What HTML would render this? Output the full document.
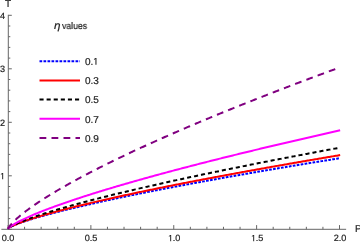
<!DOCTYPE html>
<html><head><meta charset="utf-8"><style>
html,body{margin:0;padding:0;background:#fff;}
body{width:360px;height:242px;position:relative;overflow:hidden;font-family:"Liberation Sans",sans-serif;color:#222;}
.one{width:0.5562em;height:0.688em;vertical-align:baseline;fill:#222;overflow:visible}
.t{position:absolute;line-height:1;white-space:nowrap;will-change:transform;text-rendering:geometricPrecision;-webkit-text-stroke:0.2px #222;}
</style></head><body>
<svg width="360" height="242" viewBox="0 0 360 242" style="position:absolute;left:0;top:0">
<g stroke="#666666" stroke-width="1" fill="none">
<line x1="1.37" y1="229.3" x2="346.13" y2="229.3"/>
<line x1="8.3" y1="229.8" x2="8.3" y2="14.80"/>
<line x1="8.00" y1="229.3" x2="8.00" y2="225.10000000000002"/>
<line x1="24.57" y1="229.3" x2="24.57" y2="226.8"/>
<line x1="41.15" y1="229.3" x2="41.15" y2="226.8"/>
<line x1="57.73" y1="229.3" x2="57.73" y2="226.8"/>
<line x1="74.30" y1="229.3" x2="74.30" y2="226.8"/>
<line x1="90.88" y1="229.3" x2="90.88" y2="225.10000000000002"/>
<line x1="107.45" y1="229.3" x2="107.45" y2="226.8"/>
<line x1="124.03" y1="229.3" x2="124.03" y2="226.8"/>
<line x1="140.60" y1="229.3" x2="140.60" y2="226.8"/>
<line x1="157.18" y1="229.3" x2="157.18" y2="226.8"/>
<line x1="173.75" y1="229.3" x2="173.75" y2="225.10000000000002"/>
<line x1="190.33" y1="229.3" x2="190.33" y2="226.8"/>
<line x1="206.90" y1="229.3" x2="206.90" y2="226.8"/>
<line x1="223.47" y1="229.3" x2="223.47" y2="226.8"/>
<line x1="240.05" y1="229.3" x2="240.05" y2="226.8"/>
<line x1="256.62" y1="229.3" x2="256.62" y2="225.10000000000002"/>
<line x1="273.20" y1="229.3" x2="273.20" y2="226.8"/>
<line x1="289.78" y1="229.3" x2="289.78" y2="226.8"/>
<line x1="306.35" y1="229.3" x2="306.35" y2="226.8"/>
<line x1="322.93" y1="229.3" x2="322.93" y2="226.8"/>
<line x1="339.50" y1="229.3" x2="339.50" y2="225.10000000000002"/>
<line x1="8.3" y1="229.30" x2="11.8" y2="229.30"/>
<line x1="8.3" y1="218.60" x2="10.3" y2="218.60"/>
<line x1="8.3" y1="207.90" x2="10.3" y2="207.90"/>
<line x1="8.3" y1="197.20" x2="10.3" y2="197.20"/>
<line x1="8.3" y1="186.50" x2="10.3" y2="186.50"/>
<line x1="8.3" y1="175.80" x2="11.8" y2="175.80"/>
<line x1="8.3" y1="165.10" x2="10.3" y2="165.10"/>
<line x1="8.3" y1="154.40" x2="10.3" y2="154.40"/>
<line x1="8.3" y1="143.70" x2="10.3" y2="143.70"/>
<line x1="8.3" y1="133.00" x2="10.3" y2="133.00"/>
<line x1="8.3" y1="122.30" x2="11.8" y2="122.30"/>
<line x1="8.3" y1="111.60" x2="10.3" y2="111.60"/>
<line x1="8.3" y1="100.90" x2="10.3" y2="100.90"/>
<line x1="8.3" y1="90.20" x2="10.3" y2="90.20"/>
<line x1="8.3" y1="79.50" x2="10.3" y2="79.50"/>
<line x1="8.3" y1="68.80" x2="11.8" y2="68.80"/>
<line x1="8.3" y1="58.10" x2="10.3" y2="58.10"/>
<line x1="8.3" y1="47.40" x2="10.3" y2="47.40"/>
<line x1="8.3" y1="36.70" x2="10.3" y2="36.70"/>
<line x1="8.3" y1="26.00" x2="10.3" y2="26.00"/>
<line x1="8.3" y1="15.30" x2="11.8" y2="15.30"/>
</g>
<path d="M8.00,228.15 L8.14,228.07 L8.28,227.99 L8.42,227.91 L8.56,227.83 L8.70,227.75 L8.84,227.67 L8.98,227.60 L9.12,227.52 L9.26,227.45 L9.40,227.37 L9.55,227.30 L9.69,227.23 L9.83,227.16 L9.97,227.09 L10.11,227.02 L10.25,226.95 L10.39,226.88 L10.53,226.81 L10.67,226.75 L10.81,226.68 L10.95,226.61 L11.09,226.55 L11.23,226.48 L11.37,226.42 L11.51,226.35 L11.65,226.29 L11.79,226.23 L11.93,226.16 L12.07,226.10 L12.21,226.04 L12.35,225.98 L12.49,225.91 L12.64,225.85 L12.78,225.79 L12.92,225.73 L13.06,225.67 L13.20,225.61 L13.34,225.55 L13.48,225.49 L13.62,225.43 L13.76,225.38 L13.90,225.32 L14.04,225.26 L14.18,225.20 L14.32,225.14 L14.46,225.09 L14.60,225.03 L14.74,224.97 L14.88,224.92 L15.02,224.86 L15.16,224.80 L15.30,224.75 L15.44,224.69 L15.59,224.64 L15.73,224.58 L15.87,224.53 L16.01,224.47 L16.15,224.42 L16.29,224.36 L17.37,223.95 L18.45,223.54 L19.54,223.15 L20.62,222.76 L21.70,222.38 L22.79,222.01 L23.87,221.64 L24.95,221.28 L26.04,220.93 L27.12,220.58 L28.20,220.23 L29.29,219.89 L30.37,219.55 L31.45,219.22 L32.54,218.89 L33.62,218.56 L34.70,218.24 L35.79,217.91 L36.87,217.60 L37.95,217.28 L39.03,216.97 L40.12,216.66 L41.20,216.35 L42.28,216.05 L43.37,215.75 L44.45,215.45 L45.53,215.15 L46.62,214.85 L47.70,214.56 L48.78,214.27 L49.87,213.98 L50.95,213.69 L52.03,213.40 L53.12,213.12 L54.20,212.83 L55.28,212.55 L56.37,212.27 L57.45,211.99 L58.53,211.72 L59.62,211.44 L60.70,211.17 L61.78,210.90 L62.86,210.62 L63.95,210.35 L65.03,210.08 L66.11,209.82 L67.20,209.55 L68.28,209.29 L69.36,209.02 L70.45,208.76 L71.53,208.50 L72.61,208.24 L73.70,207.98 L74.78,207.72 L75.86,207.46 L76.95,207.20 L78.03,206.95 L79.11,206.69 L80.20,206.44 L81.28,206.19 L82.36,205.94 L83.45,205.68 L84.53,205.43 L85.61,205.19 L86.70,204.94 L87.78,204.69 L88.86,204.44 L89.94,204.20 L91.03,203.95 L92.11,203.71 L93.19,203.47 L94.28,203.22 L95.36,202.98 L96.44,202.74 L97.53,202.50 L98.61,202.26 L99.69,202.02 L100.78,201.78 L101.86,201.54 L102.94,201.31 L104.03,201.07 L105.11,200.83 L106.19,200.60 L107.28,200.37 L108.36,200.13 L109.44,199.90 L110.53,199.67 L111.61,199.43 L112.69,199.20 L113.78,198.97 L114.86,198.74 L115.94,198.51 L117.02,198.28 L118.11,198.06 L119.19,197.83 L120.27,197.60 L121.36,197.37 L122.44,197.15 L123.52,196.92 L124.61,196.70 L125.69,196.47 L126.77,196.25 L127.86,196.02 L128.94,195.80 L130.02,195.58 L131.11,195.36 L132.19,195.13 L133.27,194.91 L134.36,194.69 L135.44,194.47 L136.52,194.25 L137.61,194.03 L138.69,193.81 L139.77,193.59 L140.85,193.38 L141.94,193.16 L143.02,192.94 L144.10,192.73 L145.19,192.51 L146.27,192.29 L147.35,192.08 L148.44,191.86 L149.52,191.65 L150.60,191.43 L151.69,191.22 L152.77,191.01 L153.85,190.79 L154.94,190.58 L156.02,190.37 L157.10,190.16 L158.19,189.95 L159.27,189.73 L160.35,189.52 L161.44,189.31 L162.52,189.10 L163.60,188.89 L164.69,188.68 L165.77,188.48 L166.85,188.27 L167.93,188.06 L169.02,187.85 L170.10,187.64 L171.18,187.44 L172.27,187.23 L173.35,187.02 L174.43,186.82 L175.52,186.61 L176.60,186.41 L177.68,186.20 L178.77,186.00 L179.85,185.79 L180.93,185.59 L182.02,185.38 L183.10,185.18 L184.18,184.98 L185.27,184.77 L186.35,184.57 L187.43,184.37 L188.52,184.17 L189.60,183.97 L190.68,183.76 L191.77,183.56 L192.85,183.36 L193.93,183.16 L195.01,182.96 L196.10,182.76 L197.18,182.56 L198.26,182.36 L199.35,182.16 L200.43,181.96 L201.51,181.77 L202.60,181.57 L203.68,181.37 L204.76,181.17 L205.85,180.97 L206.93,180.78 L208.01,180.58 L209.10,180.38 L210.18,180.19 L211.26,179.99 L212.35,179.80 L213.43,179.60 L214.51,179.40 L215.60,179.21 L216.68,179.01 L217.76,178.82 L218.85,178.63 L219.93,178.43 L221.01,178.24 L222.09,178.04 L223.18,177.85 L224.26,177.66 L225.34,177.46 L226.43,177.27 L227.51,177.08 L228.59,176.89 L229.68,176.70 L230.76,176.50 L231.84,176.31 L232.93,176.12 L234.01,175.93 L235.09,175.74 L236.18,175.55 L237.26,175.36 L238.34,175.17 L239.43,174.98 L240.51,174.79 L241.59,174.60 L242.68,174.41 L243.76,174.22 L244.84,174.03 L245.92,173.84 L247.01,173.66 L248.09,173.47 L249.17,173.28 L250.26,173.09 L251.34,172.90 L252.42,172.72 L253.51,172.53 L254.59,172.34 L255.67,172.16 L256.76,171.97 L257.84,171.78 L258.92,171.60 L260.01,171.41 L261.09,171.23 L262.17,171.04 L263.26,170.85 L264.34,170.67 L265.42,170.48 L266.51,170.30 L267.59,170.12 L268.67,169.93 L269.76,169.75 L270.84,169.56 L271.92,169.38 L273.00,169.20 L274.09,169.01 L275.17,168.83 L276.25,168.65 L277.34,168.46 L278.42,168.28 L279.50,168.10 L280.59,167.92 L281.67,167.73 L282.75,167.55 L283.84,167.37 L284.92,167.19 L286.00,167.01 L287.09,166.83 L288.17,166.64 L289.25,166.46 L290.34,166.28 L291.42,166.10 L292.50,165.92 L293.59,165.74 L294.67,165.56 L295.75,165.38 L296.84,165.20 L297.92,165.02 L299.00,164.84 L300.08,164.66 L301.17,164.49 L302.25,164.31 L303.33,164.13 L304.42,163.95 L305.50,163.77 L306.58,163.59 L307.67,163.42 L308.75,163.24 L309.83,163.06 L310.92,162.88 L312.00,162.70 L313.08,162.53 L314.17,162.35 L315.25,162.17 L316.33,162.00 L317.42,161.82 L318.50,161.64 L319.58,161.47 L320.67,161.29 L321.75,161.12 L322.83,160.94 L323.92,160.76 L325.00,160.59 L326.08,160.41 L327.16,160.24 L328.25,160.06 L329.33,159.89 L330.41,159.71 L331.50,159.54 L332.58,159.36 L333.66,159.19 L334.75,159.01 L335.83,158.84 L336.91,158.67 L338.00,158.49 L339.08,158.32 L340.16,158.15" fill="none" stroke="#0000ff" stroke-width="2.0" stroke-dasharray="2.7 1.3" stroke-dashoffset="0"/>
<path d="M8.00,228.25 L8.14,228.15 L8.28,228.07 L8.42,227.98 L8.56,227.89 L8.70,227.81 L8.84,227.73 L8.98,227.65 L9.12,227.57 L9.26,227.49 L9.40,227.41 L9.55,227.33 L9.69,227.25 L9.83,227.18 L9.97,227.10 L10.11,227.03 L10.25,226.96 L10.39,226.88 L10.53,226.81 L10.67,226.74 L10.81,226.67 L10.95,226.60 L11.09,226.53 L11.23,226.46 L11.37,226.39 L11.51,226.33 L11.65,226.26 L11.79,226.19 L11.93,226.12 L12.07,226.06 L12.21,225.99 L12.35,225.93 L12.49,225.86 L12.64,225.80 L12.78,225.73 L12.92,225.67 L13.06,225.61 L13.20,225.54 L13.34,225.48 L13.48,225.42 L13.62,225.36 L13.76,225.29 L13.90,225.23 L14.04,225.17 L14.18,225.11 L14.32,225.05 L14.46,224.99 L14.60,224.93 L14.74,224.87 L14.88,224.81 L15.02,224.75 L15.16,224.69 L15.30,224.63 L15.44,224.58 L15.59,224.52 L15.73,224.46 L15.87,224.40 L16.01,224.34 L16.15,224.29 L16.29,224.23 L17.37,223.79 L18.45,223.37 L19.54,222.96 L20.62,222.55 L21.70,222.15 L22.79,221.76 L23.87,221.38 L24.95,221.00 L26.04,220.63 L27.12,220.26 L28.20,219.90 L29.29,219.54 L30.37,219.19 L31.45,218.84 L32.54,218.50 L33.62,218.16 L34.70,217.82 L35.79,217.48 L36.87,217.15 L37.95,216.82 L39.03,216.50 L40.12,216.17 L41.20,215.85 L42.28,215.53 L43.37,215.22 L44.45,214.90 L45.53,214.59 L46.62,214.28 L47.70,213.98 L48.78,213.67 L49.87,213.37 L50.95,213.07 L52.03,212.77 L53.12,212.47 L54.20,212.18 L55.28,211.88 L56.37,211.59 L57.45,211.30 L58.53,211.01 L59.62,210.72 L60.70,210.44 L61.78,210.15 L62.86,209.87 L63.95,209.59 L65.03,209.30 L66.11,209.03 L67.20,208.75 L68.28,208.47 L69.36,208.19 L70.45,207.92 L71.53,207.65 L72.61,207.38 L73.70,207.10 L74.78,206.83 L75.86,206.57 L76.95,206.30 L78.03,206.03 L79.11,205.77 L80.20,205.50 L81.28,205.24 L82.36,204.97 L83.45,204.71 L84.53,204.45 L85.61,204.19 L86.70,203.93 L87.78,203.67 L88.86,203.42 L89.94,203.16 L91.03,202.90 L92.11,202.65 L93.19,202.40 L94.28,202.14 L95.36,201.89 L96.44,201.64 L97.53,201.39 L98.61,201.14 L99.69,200.89 L100.78,200.64 L101.86,200.39 L102.94,200.14 L104.03,199.90 L105.11,199.65 L106.19,199.41 L107.28,199.16 L108.36,198.92 L109.44,198.67 L110.53,198.43 L111.61,198.19 L112.69,197.95 L113.78,197.71 L114.86,197.47 L115.94,197.23 L117.02,196.99 L118.11,196.75 L119.19,196.51 L120.27,196.27 L121.36,196.04 L122.44,195.80 L123.52,195.57 L124.61,195.33 L125.69,195.10 L126.77,194.86 L127.86,194.63 L128.94,194.40 L130.02,194.16 L131.11,193.93 L132.19,193.70 L133.27,193.47 L134.36,193.24 L135.44,193.01 L136.52,192.78 L137.61,192.55 L138.69,192.32 L139.77,192.10 L140.85,191.87 L141.94,191.64 L143.02,191.41 L144.10,191.19 L145.19,190.96 L146.27,190.74 L147.35,190.51 L148.44,190.29 L149.52,190.06 L150.60,189.84 L151.69,189.62 L152.77,189.40 L153.85,189.17 L154.94,188.95 L156.02,188.73 L157.10,188.51 L158.19,188.29 L159.27,188.07 L160.35,187.85 L161.44,187.63 L162.52,187.41 L163.60,187.19 L164.69,186.97 L165.77,186.75 L166.85,186.54 L167.93,186.32 L169.02,186.10 L170.10,185.89 L171.18,185.67 L172.27,185.45 L173.35,185.24 L174.43,185.02 L175.52,184.81 L176.60,184.59 L177.68,184.38 L178.77,184.17 L179.85,183.95 L180.93,183.74 L182.02,183.53 L183.10,183.32 L184.18,183.10 L185.27,182.89 L186.35,182.68 L187.43,182.47 L188.52,182.26 L189.60,182.05 L190.68,181.84 L191.77,181.63 L192.85,181.42 L193.93,181.21 L195.01,181.00 L196.10,180.79 L197.18,180.58 L198.26,180.38 L199.35,180.17 L200.43,179.96 L201.51,179.75 L202.60,179.55 L203.68,179.34 L204.76,179.13 L205.85,178.93 L206.93,178.72 L208.01,178.52 L209.10,178.31 L210.18,178.11 L211.26,177.90 L212.35,177.70 L213.43,177.49 L214.51,177.29 L215.60,177.09 L216.68,176.88 L217.76,176.68 L218.85,176.48 L219.93,176.27 L221.01,176.07 L222.09,175.87 L223.18,175.67 L224.26,175.47 L225.34,175.27 L226.43,175.07 L227.51,174.86 L228.59,174.66 L229.68,174.46 L230.76,174.26 L231.84,174.06 L232.93,173.86 L234.01,173.67 L235.09,173.47 L236.18,173.27 L237.26,173.07 L238.34,172.87 L239.43,172.67 L240.51,172.47 L241.59,172.28 L242.68,172.08 L243.76,171.88 L244.84,171.69 L245.92,171.49 L247.01,171.29 L248.09,171.10 L249.17,170.90 L250.26,170.70 L251.34,170.51 L252.42,170.31 L253.51,170.12 L254.59,169.92 L255.67,169.73 L256.76,169.53 L257.84,169.34 L258.92,169.15 L260.01,168.95 L261.09,168.76 L262.17,168.56 L263.26,168.37 L264.34,168.18 L265.42,167.98 L266.51,167.79 L267.59,167.60 L268.67,167.41 L269.76,167.22 L270.84,167.02 L271.92,166.83 L273.00,166.64 L274.09,166.45 L275.17,166.26 L276.25,166.07 L277.34,165.88 L278.42,165.69 L279.50,165.50 L280.59,165.31 L281.67,165.12 L282.75,164.93 L283.84,164.74 L284.92,164.55 L286.00,164.36 L287.09,164.17 L288.17,163.98 L289.25,163.79 L290.34,163.60 L291.42,163.41 L292.50,163.23 L293.59,163.04 L294.67,162.85 L295.75,162.66 L296.84,162.47 L297.92,162.29 L299.00,162.10 L300.08,161.91 L301.17,161.73 L302.25,161.54 L303.33,161.35 L304.42,161.17 L305.50,160.98 L306.58,160.80 L307.67,160.61 L308.75,160.42 L309.83,160.24 L310.92,160.05 L312.00,159.87 L313.08,159.68 L314.17,159.50 L315.25,159.31 L316.33,159.13 L317.42,158.95 L318.50,158.76 L319.58,158.58 L320.67,158.39 L321.75,158.21 L322.83,158.03 L323.92,157.84 L325.00,157.66 L326.08,157.48 L327.16,157.29 L328.25,157.11 L329.33,156.93 L330.41,156.75 L331.50,156.57 L332.58,156.38 L333.66,156.20 L334.75,156.02 L335.83,155.84 L336.91,155.66 L338.00,155.48 L339.08,155.29 L340.16,155.11" fill="none" stroke="#ff0000" stroke-width="2.0" stroke-dashoffset="0"/>
<path d="M8.00,228.43 L8.14,228.32 L8.28,228.22 L8.42,228.11 L8.56,228.01 L8.70,227.91 L8.84,227.82 L8.98,227.72 L9.12,227.63 L9.26,227.54 L9.40,227.45 L9.55,227.36 L9.69,227.27 L9.83,227.18 L9.97,227.10 L10.11,227.01 L10.25,226.93 L10.39,226.85 L10.53,226.77 L10.67,226.68 L10.81,226.60 L10.95,226.52 L11.09,226.45 L11.23,226.37 L11.37,226.29 L11.51,226.21 L11.65,226.14 L11.79,226.06 L11.93,225.99 L12.07,225.91 L12.21,225.84 L12.35,225.77 L12.49,225.69 L12.64,225.62 L12.78,225.55 L12.92,225.48 L13.06,225.41 L13.20,225.34 L13.34,225.26 L13.48,225.20 L13.62,225.13 L13.76,225.06 L13.90,224.99 L14.04,224.92 L14.18,224.85 L14.32,224.78 L14.46,224.72 L14.60,224.65 L14.74,224.58 L14.88,224.52 L15.02,224.45 L15.16,224.38 L15.30,224.32 L15.44,224.25 L15.59,224.19 L15.73,224.12 L15.87,224.06 L16.01,223.99 L16.15,223.93 L16.29,223.87 L17.37,223.38 L18.45,222.91 L19.54,222.45 L20.62,222.00 L21.70,221.56 L22.79,221.13 L23.87,220.70 L24.95,220.29 L26.04,219.87 L27.12,219.47 L28.20,219.07 L29.29,218.67 L30.37,218.28 L31.45,217.90 L32.54,217.51 L33.62,217.14 L34.70,216.76 L35.79,216.39 L36.87,216.02 L37.95,215.66 L39.03,215.30 L40.12,214.94 L41.20,214.59 L42.28,214.24 L43.37,213.89 L44.45,213.54 L45.53,213.20 L46.62,212.86 L47.70,212.52 L48.78,212.18 L49.87,211.85 L50.95,211.52 L52.03,211.19 L53.12,210.86 L54.20,210.53 L55.28,210.21 L56.37,209.88 L57.45,209.56 L58.53,209.25 L59.62,208.93 L60.70,208.61 L61.78,208.30 L62.86,207.99 L63.95,207.67 L65.03,207.36 L66.11,207.06 L67.20,206.75 L68.28,206.44 L69.36,206.14 L70.45,205.84 L71.53,205.54 L72.61,205.24 L73.70,204.94 L74.78,204.64 L75.86,204.34 L76.95,204.05 L78.03,203.75 L79.11,203.46 L80.20,203.17 L81.28,202.88 L82.36,202.59 L83.45,202.30 L84.53,202.01 L85.61,201.72 L86.70,201.44 L87.78,201.15 L88.86,200.87 L89.94,200.59 L91.03,200.31 L92.11,200.02 L93.19,199.74 L94.28,199.46 L95.36,199.19 L96.44,198.91 L97.53,198.63 L98.61,198.36 L99.69,198.08 L100.78,197.81 L101.86,197.53 L102.94,197.26 L104.03,196.99 L105.11,196.72 L106.19,196.45 L107.28,196.18 L108.36,195.91 L109.44,195.64 L110.53,195.37 L111.61,195.11 L112.69,194.84 L113.78,194.57 L114.86,194.31 L115.94,194.05 L117.02,193.78 L118.11,193.52 L119.19,193.26 L120.27,193.00 L121.36,192.74 L122.44,192.48 L123.52,192.22 L124.61,191.96 L125.69,191.70 L126.77,191.44 L127.86,191.18 L128.94,190.93 L130.02,190.67 L131.11,190.41 L132.19,190.16 L133.27,189.91 L134.36,189.65 L135.44,189.40 L136.52,189.15 L137.61,188.89 L138.69,188.64 L139.77,188.39 L140.85,188.14 L141.94,187.89 L143.02,187.64 L144.10,187.39 L145.19,187.14 L146.27,186.89 L147.35,186.65 L148.44,186.40 L149.52,186.15 L150.60,185.90 L151.69,185.66 L152.77,185.41 L153.85,185.17 L154.94,184.92 L156.02,184.68 L157.10,184.44 L158.19,184.19 L159.27,183.95 L160.35,183.71 L161.44,183.47 L162.52,183.22 L163.60,182.98 L164.69,182.74 L165.77,182.50 L166.85,182.26 L167.93,182.02 L169.02,181.78 L170.10,181.55 L171.18,181.31 L172.27,181.07 L173.35,180.83 L174.43,180.60 L175.52,180.36 L176.60,180.12 L177.68,179.89 L178.77,179.65 L179.85,179.42 L180.93,179.18 L182.02,178.95 L183.10,178.71 L184.18,178.48 L185.27,178.25 L186.35,178.01 L187.43,177.78 L188.52,177.55 L189.60,177.32 L190.68,177.09 L191.77,176.85 L192.85,176.62 L193.93,176.39 L195.01,176.16 L196.10,175.93 L197.18,175.70 L198.26,175.47 L199.35,175.24 L200.43,175.02 L201.51,174.79 L202.60,174.56 L203.68,174.33 L204.76,174.11 L205.85,173.88 L206.93,173.65 L208.01,173.43 L209.10,173.20 L210.18,172.97 L211.26,172.75 L212.35,172.52 L213.43,172.30 L214.51,172.07 L215.60,171.85 L216.68,171.62 L217.76,171.40 L218.85,171.18 L219.93,170.95 L221.01,170.73 L222.09,170.51 L223.18,170.29 L224.26,170.06 L225.34,169.84 L226.43,169.62 L227.51,169.40 L228.59,169.18 L229.68,168.96 L230.76,168.74 L231.84,168.52 L232.93,168.30 L234.01,168.08 L235.09,167.86 L236.18,167.64 L237.26,167.42 L238.34,167.20 L239.43,166.99 L240.51,166.77 L241.59,166.55 L242.68,166.33 L243.76,166.11 L244.84,165.90 L245.92,165.68 L247.01,165.46 L248.09,165.25 L249.17,165.03 L250.26,164.82 L251.34,164.60 L252.42,164.39 L253.51,164.17 L254.59,163.96 L255.67,163.74 L256.76,163.53 L257.84,163.31 L258.92,163.10 L260.01,162.88 L261.09,162.67 L262.17,162.46 L263.26,162.25 L264.34,162.03 L265.42,161.82 L266.51,161.61 L267.59,161.40 L268.67,161.18 L269.76,160.97 L270.84,160.76 L271.92,160.55 L273.00,160.34 L274.09,160.13 L275.17,159.92 L276.25,159.71 L277.34,159.50 L278.42,159.29 L279.50,159.08 L280.59,158.87 L281.67,158.66 L282.75,158.45 L283.84,158.24 L284.92,158.03 L286.00,157.82 L287.09,157.61 L288.17,157.41 L289.25,157.20 L290.34,156.99 L291.42,156.78 L292.50,156.58 L293.59,156.37 L294.67,156.16 L295.75,155.96 L296.84,155.75 L297.92,155.54 L299.00,155.34 L300.08,155.13 L301.17,154.92 L302.25,154.72 L303.33,154.51 L304.42,154.31 L305.50,154.10 L306.58,153.90 L307.67,153.69 L308.75,153.49 L309.83,153.29 L310.92,153.08 L312.00,152.88 L313.08,152.67 L314.17,152.47 L315.25,152.27 L316.33,152.06 L317.42,151.86 L318.50,151.66 L319.58,151.46 L320.67,151.25 L321.75,151.05 L322.83,150.85 L323.92,150.65 L325.00,150.44 L326.08,150.24 L327.16,150.04 L328.25,149.84 L329.33,149.64 L330.41,149.44 L331.50,149.24 L332.58,149.04 L333.66,148.84 L334.75,148.64 L335.83,148.44 L336.91,148.24 L338.00,148.04 L339.08,147.84 L340.16,147.64" fill="none" stroke="#000000" stroke-width="2.0" stroke-dasharray="4.1 3.0" stroke-dashoffset="-2.0"/>
<path d="M8.00,228.71 L8.14,228.55 L8.28,228.40 L8.42,228.26 L8.56,228.12 L8.70,227.99 L8.84,227.86 L8.98,227.74 L9.12,227.61 L9.26,227.50 L9.40,227.38 L9.55,227.26 L9.69,227.15 L9.83,227.04 L9.97,226.93 L10.11,226.83 L10.25,226.72 L10.39,226.62 L10.53,226.51 L10.67,226.41 L10.81,226.31 L10.95,226.21 L11.09,226.11 L11.23,226.01 L11.37,225.92 L11.51,225.82 L11.65,225.73 L11.79,225.63 L11.93,225.54 L12.07,225.45 L12.21,225.35 L12.35,225.26 L12.49,225.17 L12.64,225.08 L12.78,224.99 L12.92,224.90 L13.06,224.82 L13.20,224.73 L13.34,224.64 L13.48,224.56 L13.62,224.47 L13.76,224.38 L13.90,224.30 L14.04,224.22 L14.18,224.13 L14.32,224.05 L14.46,223.96 L14.60,223.88 L14.74,223.80 L14.88,223.72 L15.02,223.64 L15.16,223.56 L15.30,223.47 L15.44,223.39 L15.59,223.31 L15.73,223.23 L15.87,223.16 L16.01,223.08 L16.15,223.00 L16.29,222.92 L17.37,222.33 L18.45,221.75 L19.54,221.19 L20.62,220.64 L21.70,220.10 L22.79,219.57 L23.87,219.05 L24.95,218.54 L26.04,218.04 L27.12,217.54 L28.20,217.05 L29.29,216.57 L30.37,216.10 L31.45,215.63 L32.54,215.16 L33.62,214.70 L34.70,214.25 L35.79,213.79 L36.87,213.35 L37.95,212.91 L39.03,212.47 L40.12,212.03 L41.20,211.60 L42.28,211.18 L43.37,210.75 L44.45,210.33 L45.53,209.91 L46.62,209.50 L47.70,209.09 L48.78,208.68 L49.87,208.27 L50.95,207.87 L52.03,207.46 L53.12,207.07 L54.20,206.67 L55.28,206.28 L56.37,205.88 L57.45,205.49 L58.53,205.11 L59.62,204.72 L60.70,204.34 L61.78,203.95 L62.86,203.57 L63.95,203.20 L65.03,202.82 L66.11,202.45 L67.20,202.07 L68.28,201.70 L69.36,201.33 L70.45,200.97 L71.53,200.60 L72.61,200.24 L73.70,199.87 L74.78,199.51 L75.86,199.15 L76.95,198.79 L78.03,198.44 L79.11,198.08 L80.20,197.72 L81.28,197.37 L82.36,197.02 L83.45,196.67 L84.53,196.32 L85.61,195.97 L86.70,195.62 L87.78,195.28 L88.86,194.93 L89.94,194.59 L91.03,194.25 L92.11,193.91 L93.19,193.57 L94.28,193.23 L95.36,192.89 L96.44,192.55 L97.53,192.22 L98.61,191.88 L99.69,191.55 L100.78,191.22 L101.86,190.88 L102.94,190.55 L104.03,190.22 L105.11,189.89 L106.19,189.57 L107.28,189.24 L108.36,188.91 L109.44,188.59 L110.53,188.26 L111.61,187.94 L112.69,187.61 L113.78,187.29 L114.86,186.97 L115.94,186.65 L117.02,186.33 L118.11,186.01 L119.19,185.69 L120.27,185.38 L121.36,185.06 L122.44,184.74 L123.52,184.43 L124.61,184.11 L125.69,183.80 L126.77,183.49 L127.86,183.18 L128.94,182.86 L130.02,182.55 L131.11,182.24 L132.19,181.93 L133.27,181.63 L134.36,181.32 L135.44,181.01 L136.52,180.70 L137.61,180.40 L138.69,180.09 L139.77,179.79 L140.85,179.48 L141.94,179.18 L143.02,178.88 L144.10,178.57 L145.19,178.27 L146.27,177.97 L147.35,177.67 L148.44,177.37 L149.52,177.07 L150.60,176.77 L151.69,176.47 L152.77,176.17 L153.85,175.88 L154.94,175.58 L156.02,175.28 L157.10,174.99 L158.19,174.69 L159.27,174.40 L160.35,174.11 L161.44,173.81 L162.52,173.52 L163.60,173.23 L164.69,172.93 L165.77,172.64 L166.85,172.35 L167.93,172.06 L169.02,171.77 L170.10,171.48 L171.18,171.19 L172.27,170.90 L173.35,170.62 L174.43,170.33 L175.52,170.04 L176.60,169.76 L177.68,169.47 L178.77,169.18 L179.85,168.90 L180.93,168.61 L182.02,168.33 L183.10,168.04 L184.18,167.76 L185.27,167.48 L186.35,167.20 L187.43,166.91 L188.52,166.63 L189.60,166.35 L190.68,166.07 L191.77,165.79 L192.85,165.51 L193.93,165.23 L195.01,164.95 L196.10,164.67 L197.18,164.39 L198.26,164.11 L199.35,163.84 L200.43,163.56 L201.51,163.28 L202.60,163.01 L203.68,162.73 L204.76,162.45 L205.85,162.18 L206.93,161.90 L208.01,161.63 L209.10,161.35 L210.18,161.08 L211.26,160.81 L212.35,160.53 L213.43,160.26 L214.51,159.99 L215.60,159.72 L216.68,159.44 L217.76,159.17 L218.85,158.90 L219.93,158.63 L221.01,158.36 L222.09,158.09 L223.18,157.82 L224.26,157.55 L225.34,157.28 L226.43,157.01 L227.51,156.75 L228.59,156.48 L229.68,156.21 L230.76,155.94 L231.84,155.68 L232.93,155.41 L234.01,155.14 L235.09,154.88 L236.18,154.61 L237.26,154.35 L238.34,154.08 L239.43,153.82 L240.51,153.55 L241.59,153.29 L242.68,153.02 L243.76,152.76 L244.84,152.50 L245.92,152.23 L247.01,151.97 L248.09,151.71 L249.17,151.45 L250.26,151.18 L251.34,150.92 L252.42,150.66 L253.51,150.40 L254.59,150.14 L255.67,149.88 L256.76,149.62 L257.84,149.36 L258.92,149.10 L260.01,148.84 L261.09,148.58 L262.17,148.32 L263.26,148.07 L264.34,147.81 L265.42,147.55 L266.51,147.29 L267.59,147.03 L268.67,146.78 L269.76,146.52 L270.84,146.26 L271.92,146.01 L273.00,145.75 L274.09,145.50 L275.17,145.24 L276.25,144.99 L277.34,144.73 L278.42,144.48 L279.50,144.22 L280.59,143.97 L281.67,143.71 L282.75,143.46 L283.84,143.21 L284.92,142.95 L286.00,142.70 L287.09,142.45 L288.17,142.20 L289.25,141.94 L290.34,141.69 L291.42,141.44 L292.50,141.19 L293.59,140.94 L294.67,140.69 L295.75,140.44 L296.84,140.18 L297.92,139.93 L299.00,139.68 L300.08,139.43 L301.17,139.19 L302.25,138.94 L303.33,138.69 L304.42,138.44 L305.50,138.19 L306.58,137.94 L307.67,137.69 L308.75,137.44 L309.83,137.20 L310.92,136.95 L312.00,136.70 L313.08,136.45 L314.17,136.21 L315.25,135.96 L316.33,135.71 L317.42,135.47 L318.50,135.22 L319.58,134.98 L320.67,134.73 L321.75,134.49 L322.83,134.24 L323.92,134.00 L325.00,133.75 L326.08,133.51 L327.16,133.26 L328.25,133.02 L329.33,132.77 L330.41,132.53 L331.50,132.29 L332.58,132.04 L333.66,131.80 L334.75,131.56 L335.83,131.31 L336.91,131.07 L338.00,130.83 L339.08,130.59 L340.16,130.35" fill="none" stroke="#ff00ff" stroke-width="2.0" stroke-dashoffset="0"/>
<path d="M8.00,229.08 L8.14,228.71 L8.28,228.40 L8.42,228.13 L8.56,227.87 L8.70,227.63 L8.84,227.40 L8.98,227.18 L9.12,226.96 L9.26,226.75 L9.40,226.55 L9.55,226.35 L9.69,226.16 L9.83,225.97 L9.97,225.79 L10.11,225.60 L10.25,225.42 L10.39,225.25 L10.53,225.07 L10.67,224.90 L10.81,224.73 L10.95,224.56 L11.09,224.40 L11.23,224.23 L11.37,224.07 L11.51,223.91 L11.65,223.75 L11.79,223.59 L11.93,223.44 L12.07,223.28 L12.21,223.13 L12.35,222.98 L12.49,222.83 L12.64,222.68 L12.78,222.53 L12.92,222.38 L13.06,222.24 L13.20,222.09 L13.34,221.95 L13.48,221.80 L13.62,221.66 L13.76,221.52 L13.90,221.38 L14.04,221.24 L14.18,221.10 L14.32,220.96 L14.46,220.82 L14.60,220.68 L14.74,220.55 L14.88,220.41 L15.02,220.28 L15.16,220.14 L15.30,220.01 L15.44,219.88 L15.59,219.74 L15.73,219.61 L15.87,219.48 L16.01,219.35 L16.15,219.22 L16.29,219.09 L17.37,218.11 L18.45,217.16 L19.53,216.24 L20.61,215.33 L21.69,214.45 L22.77,213.58 L23.85,212.73 L24.93,211.89 L26.01,211.07 L27.09,210.25 L28.17,209.45 L29.25,208.66 L30.33,207.88 L31.41,207.11 L32.49,206.35 L33.57,205.59 L34.65,204.85 L35.73,204.11 L36.81,203.38 L37.89,202.65 L38.97,201.94 L40.05,201.22 L41.13,200.52 L42.21,199.82 L43.29,199.12 L44.37,198.43 L45.45,197.75 L46.53,197.07 L47.61,196.40 L48.69,195.73 L49.77,195.06 L50.85,194.40 L51.93,193.74 L53.01,193.09 L54.09,192.44 L55.17,191.79 L56.25,191.15 L57.33,190.51 L58.41,189.88 L59.49,189.25 L60.57,188.62 L61.65,188.00 L62.73,187.37 L63.81,186.76 L64.89,186.14 L65.97,185.53 L67.05,184.92 L68.13,184.31 L69.21,183.71 L70.29,183.11 L71.37,182.51 L72.46,181.91 L73.54,181.32 L74.62,180.72 L75.70,180.13 L76.78,179.55 L77.86,178.96 L78.94,178.38 L80.02,177.80 L81.10,177.22 L82.18,176.65 L83.26,176.07 L84.34,175.50 L85.42,174.93 L86.50,174.36 L87.58,173.80 L88.66,173.24 L89.74,172.67 L90.82,172.11 L91.90,171.56 L92.98,171.00 L94.06,170.44 L95.14,169.89 L96.22,169.34 L97.30,168.79 L98.38,168.24 L99.46,167.70 L100.54,167.15 L101.62,166.61 L102.70,166.07 L103.78,165.53 L104.86,164.99 L105.94,164.45 L107.02,163.92 L108.10,163.38 L109.18,162.85 L110.26,162.32 L111.34,161.79 L112.42,161.26 L113.50,160.73 L114.58,160.21 L115.66,159.68 L116.74,159.16 L117.82,158.64 L118.90,158.12 L119.98,157.60 L121.06,157.08 L122.14,156.56 L123.22,156.05 L124.30,155.54 L125.38,155.02 L126.46,154.51 L127.54,154.00 L128.62,153.49 L129.70,152.98 L130.78,152.47 L131.86,151.97 L132.94,151.46 L134.02,150.96 L135.10,150.46 L136.18,149.95 L137.26,149.45 L138.34,148.95 L139.42,148.46 L140.50,147.96 L141.58,147.46 L142.66,146.97 L143.74,146.47 L144.82,145.98 L145.91,145.48 L146.99,144.99 L148.07,144.50 L149.15,144.01 L150.23,143.52 L151.31,143.03 L152.39,142.55 L153.47,142.06 L154.55,141.58 L155.63,141.09 L156.71,140.61 L157.79,140.13 L158.87,139.64 L159.95,139.16 L161.03,138.68 L162.11,138.20 L163.19,137.73 L164.27,137.25 L165.35,136.77 L166.43,136.30 L167.51,135.82 L168.59,135.35 L169.67,134.87 L170.75,134.40 L171.83,133.93 L172.91,133.46 L173.99,132.99 L175.07,132.52 L176.15,132.05 L177.23,131.58 L178.31,131.11 L179.39,130.65 L180.47,130.18 L181.55,129.72 L182.63,129.25 L183.71,128.79 L184.79,128.33 L185.87,127.86 L186.95,127.40 L188.03,126.94 L189.11,126.48 L190.19,126.02 L191.27,125.56 L192.35,125.10 L193.43,124.65 L194.51,124.19 L195.59,123.73 L196.67,123.28 L197.75,122.82 L198.83,122.37 L199.91,121.92 L200.99,121.46 L202.07,121.01 L203.15,120.56 L204.23,120.11 L205.31,119.66 L206.39,119.21 L207.47,118.76 L208.55,118.31 L209.63,117.86 L210.71,117.41 L211.79,116.97 L212.87,116.52 L213.95,116.08 L215.03,115.63 L216.11,115.19 L217.19,114.74 L218.27,114.30 L219.36,113.86 L220.44,113.42 L221.52,112.97 L222.60,112.53 L223.68,112.09 L224.76,111.65 L225.84,111.21 L226.92,110.77 L228.00,110.34 L229.08,109.90 L230.16,109.46 L231.24,109.02 L232.32,108.59 L233.40,108.15 L234.48,107.72 L235.56,107.28 L236.64,106.85 L237.72,106.42 L238.80,105.98 L239.88,105.55 L240.96,105.12 L242.04,104.69 L243.12,104.26 L244.20,103.82 L245.28,103.39 L246.36,102.96 L247.44,102.54 L248.52,102.11 L249.60,101.68 L250.68,101.25 L251.76,100.82 L252.84,100.40 L253.92,99.97 L255.00,99.55 L256.08,99.12 L257.16,98.70 L258.24,98.27 L259.32,97.85 L260.40,97.42 L261.48,97.00 L262.56,96.58 L263.64,96.16 L264.72,95.73 L265.80,95.31 L266.88,94.89 L267.96,94.47 L269.04,94.05 L270.12,93.63 L271.20,93.21 L272.28,92.80 L273.36,92.38 L274.44,91.96 L275.52,91.54 L276.60,91.13 L277.68,90.71 L278.76,90.29 L279.84,89.88 L280.92,89.46 L282.00,89.05 L283.08,88.63 L284.16,88.22 L285.24,87.81 L286.32,87.39 L287.40,86.98 L288.48,86.57 L289.56,86.16 L290.64,85.74 L291.72,85.33 L292.81,84.92 L293.89,84.51 L294.97,84.10 L296.05,83.69 L297.13,83.28 L298.21,82.87 L299.29,82.46 L300.37,82.06 L301.45,81.65 L302.53,81.24 L303.61,80.83 L304.69,80.43 L305.77,80.02 L306.85,79.62 L307.93,79.21 L309.01,78.81 L310.09,78.40 L311.17,78.00 L312.25,77.59 L313.33,77.19 L314.41,76.78 L315.49,76.38 L316.57,75.98 L317.65,75.58 L318.73,75.17 L319.81,74.77 L320.89,74.37 L321.97,73.97 L323.05,73.57 L324.13,73.17 L325.21,72.77 L326.29,72.37 L327.37,71.97 L328.45,71.57 L329.53,71.17 L330.61,70.78 L331.69,70.38 L332.77,69.98 L333.85,69.58 L334.93,69.19 L336.01,68.79 L337.09,68.39 L338.17,68.00 L339.25,67.60" fill="none" stroke="#800080" stroke-width="2.0" stroke-dasharray="6.8 5.2" stroke-dashoffset="0"/>
<line x1="39.5" y1="61.3" x2="80" y2="61.3" stroke="#0000ff" stroke-width="2.0" stroke-dasharray="2.7 1.3"/>
<line x1="39.5" y1="80.4" x2="80" y2="80.4" stroke="#ff0000" stroke-width="2.0"/>
<line x1="39.5" y1="99.6" x2="80" y2="99.6" stroke="#000000" stroke-width="2.0" stroke-dasharray="4.1 3.0"/>
<line x1="39.5" y1="118.7" x2="80" y2="118.7" stroke="#ff00ff" stroke-width="2.0"/>
<line x1="39.5" y1="138.0" x2="80" y2="138.0" stroke="#800080" stroke-width="2.0" stroke-dasharray="6.8 5.2"/>
</svg>
<div class="t" style="left:-42.00px;width:100px;text-align:center;top:234px;font-size:9.1px;">0.0</div>
<div class="t" style="left:40.88px;width:100px;text-align:center;top:234px;font-size:9.1px;">0.5</div>
<div class="t" style="left:123.75px;width:100px;text-align:center;top:234px;font-size:9.1px;"><svg class="one" viewBox="0 0 1139 1409"><path d="M497 1409V207L197 420V215L520 0H714V1409Z"/></svg>.0</div>
<div class="t" style="left:206.62px;width:100px;text-align:center;top:234px;font-size:9.1px;"><svg class="one" viewBox="0 0 1139 1409"><path d="M497 1409V207L197 420V215L520 0H714V1409Z"/></svg>.5</div>
<div class="t" style="left:289.50px;width:100px;text-align:center;top:234px;font-size:9.1px;">2.0</div>
<div class="t" style="left:354.50px;top:225px;font-size:10px;">P</div>
<div class="t" style="left:-41.60px;width:100px;text-align:center;top:0px;font-size:10px;">T</div>
<div class="t" style="left:-95.10px;width:100px;text-align:right;top:172px;font-size:9.1px;"><svg class="one" viewBox="0 0 1139 1409"><path d="M497 1409V207L197 420V215L520 0H714V1409Z"/></svg></div>
<div class="t" style="left:-95.10px;width:100px;text-align:right;top:119px;font-size:9.1px;">2</div>
<div class="t" style="left:-95.10px;width:100px;text-align:right;top:65px;font-size:9.1px;">3</div>
<div class="t" style="left:-95.10px;width:100px;text-align:right;top:12px;font-size:9.1px;">4</div>
<div class="t" style="left:53.60px;top:21px;font-size:10.5px;font-style:italic;transform:scaleX(1.12);transform-origin:0 0">η</div>
<div class="t" style="left:61.70px;top:22px;font-size:9.5px;transform:scaleX(0.91);transform-origin:0 0">values</div>
<div class="t" style="left:85.10px;top:58px;font-size:10px;">0.<svg class="one" viewBox="0 0 1139 1409"><path d="M497 1409V207L197 420V215L520 0H714V1409Z"/></svg></div>
<div class="t" style="left:85.10px;top:77px;font-size:10px;">0.3</div>
<div class="t" style="left:85.10px;top:96px;font-size:10px;">0.5</div>
<div class="t" style="left:85.10px;top:116px;font-size:10px;">0.7</div>
<div class="t" style="left:85.10px;top:135px;font-size:10px;">0.9</div>
</body></html>
